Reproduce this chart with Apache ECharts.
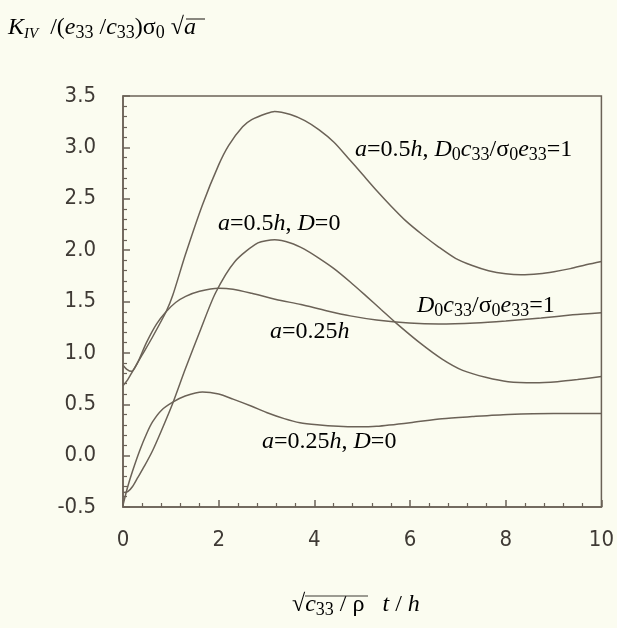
<!DOCTYPE html>
<html>
<head>
<meta charset="utf-8">
<script src="https://cdn.jsdelivr.net/npm/echarts@6/dist/echarts.min.js"></script>
<style>
  html, body { margin: 0; padding: 0; background: #fbfcf0; }
  #chart { width: 617px; height: 628px; }
</style>
</head>
<body>
<div id="chart"></div>
<script>
// curves, [x, y]
var a05D1 = [[0,0.68],[0.1,0.74],[0.2,0.82],[0.4,0.98],[0.6,1.14],[0.9,1.4],[1.04,1.56],[1.3,1.95],[1.66,2.44],[2.0,2.83],[2.21,3.02],[2.5,3.2],[2.69,3.27],[3.0,3.33],[3.17,3.35],[3.5,3.32],[3.8,3.26],[4.1,3.17],[4.41,3.05],[4.7,2.9],[5.0,2.74],[5.3,2.58],[5.6,2.43],[5.9,2.29],[6.26,2.15],[6.6,2.03],[6.95,1.92],[7.3,1.85],[7.64,1.8],[8.0,1.77],[8.32,1.76],[8.7,1.77],[9.01,1.79],[9.35,1.82],[9.7,1.86],[10,1.89]];
var a05D0 = [[0,-0.36],[0.1,-0.35],[0.2,-0.3],[0.3,-0.22],[0.45,-0.1],[0.62,0.05],[0.8,0.24],[1.04,0.51],[1.3,0.84],[1.6,1.2],[1.93,1.58],[2.34,1.89],[2.82,2.07],[3.17,2.1],[3.5,2.07],[3.79,2.01],[4.1,1.92],[4.41,1.82],[4.75,1.69],[5.09,1.55],[5.4,1.42],[5.71,1.29],[6.2,1.1],[6.67,0.94],[7.1,0.83],[7.6,0.76],[8.05,0.72],[8.6,0.71],[9.08,0.72],[9.5,0.74],[10,0.77]];
var a025D1 = [[0,0.88],[0.08,0.84],[0.18,0.82],[0.3,0.9],[0.49,1.1],[0.7,1.28],[0.9,1.4],[1.1,1.49],[1.31,1.55],[1.6,1.6],[2.0,1.63],[2.3,1.62],[2.69,1.58],[3.2,1.52],[3.72,1.47],[4.25,1.41],[4.75,1.36],[5.3,1.32],[5.98,1.29],[6.6,1.28],[7.36,1.29],[8.0,1.31],[8.74,1.34],[9.4,1.37],[10,1.39]];
var a025D0 = [[0,-0.48],[0.1,-0.3],[0.2,-0.15],[0.35,0.05],[0.5,0.22],[0.62,0.33],[0.8,0.44],[1.04,0.52],[1.3,0.58],[1.66,0.62],[2.0,0.6],[2.3,0.55],[2.69,0.48],[3.0,0.42],[3.37,0.36],[3.7,0.32],[4.06,0.3],[4.5,0.285],[4.89,0.28],[5.3,0.285],[6.0,0.32],[6.67,0.36],[7.3,0.38],[8.05,0.4],[9.0,0.41],[10,0.41]];

var xMin = 0, xMax = 10, xStep = 2;
var yMin = -0.5, yMax = 3.5, yStep = 0.5;

var ink = '#6b6257';
var txt = '#3f3a35';
var serif = '"Liberation Serif", "Times New Roman", serif';
var narrow = '"Liberation Sans Narrow", "DejaVu Sans Condensed", sans-serif';

var rich = {
  i: { fontFamily: serif, fontStyle: 'italic', fontSize: 24, color: txt },
  n: { fontFamily: serif, fontSize: 24, color: txt },
  s: { fontFamily: serif, fontSize: 18, color: txt, padding: [10, 0, 0, 0] },
  si: { fontFamily: serif, fontStyle: 'italic', fontSize: 15, color: txt, padding: [12, 0, 0, 0] }
};

function note(text, left, top) {
  return { type: 'text', left: left, top: top, silent: true, style: { text: text, rich: rich } };
}

function curve(name, data) {
  return {
    name: name, type: 'line', data: data, smooth: 0.25, showSymbol: false,
    lineStyle: { color: ink, width: 1.5 }, silent: true
  };
}

var myChart = echarts.init(document.getElementById('chart'));
myChart.setOption({
  backgroundColor: '#fbfcf0',
  animation: false,
  grid: { left: 123, right: 9, top: 96, bottom: 121, show: true, borderColor: ink, borderWidth: 1.5, backgroundColor: 'transparent' },
  xAxis: {
    type: 'value', min: xMin, max: xMax, interval: xStep,
    axisLine: { onZero: false, lineStyle: { color: ink, width: 1.5 } },
    axisTick: { inside: true, length: 7, lineStyle: { color: ink, width: 1.5 } },
    minorTick: { show: true, splitNumber: 5, length: 4, lineStyle: { color: ink, width: 1.2 } },
    splitLine: { show: false },
    axisLabel: { margin: 22, fontFamily: narrow, fontSize: 22, color: txt }
  },
  yAxis: {
    type: 'value', min: yMin, max: yMax, interval: yStep,
    axisLine: { onZero: false, lineStyle: { color: ink, width: 1.5 } },
    axisTick: { inside: true, length: 7, lineStyle: { color: ink, width: 1.5 } },
    minorTick: { show: true, splitNumber: 5, length: 4, lineStyle: { color: ink, width: 1.2 } },
    splitLine: { show: false },
    axisLabel: { margin: 27, fontFamily: narrow, fontSize: 22, color: txt, formatter: function (v) { return v.toFixed(1); } }
  },
  series: [
    curve('a=0.5h, D0c33/σ0e33=1', a05D1),
    curve('a=0.5h, D=0', a05D0),
    curve('a=0.25h, D0c33/σ0e33=1', a025D1),
    curve('a=0.25h, D=0', a025D0)
  ],
  graphic: [
    // y axis title
    note('{i|K}{si|IV}{n|  /(}{i|e}{s|33}{n| /}{i|c}{s|33}{n|)σ}{s|0}{n| √}{i|a}', 8, 16),
    { type: 'line', silent: true, shape: { x1: 186, y1: 19, x2: 205, y2: 19 }, style: { stroke: txt, lineWidth: 1.2 } },
    // x axis title
    note('{n|√}{i|c}{s|33}{n| / ρ   }{i|t}{n| / }{i|h}', 292, 593),
    { type: 'line', silent: true, shape: { x1: 305, y1: 596, x2: 368, y2: 596 }, style: { stroke: txt, lineWidth: 1.2 } },
    // curve notes
    note('{i|a}{n|=0.5}{i|h}{n|, }{i|D}{s|0}{i|c}{s|33}{n|/σ}{s|0}{i|e}{s|33}{n|=1}', 355, 138),
    note('{i|a}{n|=0.5}{i|h}{n|, }{i|D}{n|=0}', 218, 212),
    note('{i|D}{s|0}{i|c}{s|33}{n|/σ}{s|0}{i|e}{s|33}{n|=1}', 417, 294),
    note('{i|a}{n|=0.25}{i|h}', 270, 320),
    note('{i|a}{n|=0.25}{i|h}{n|, }{i|D}{n|=0}', 262, 430)
  ]
});
window.addEventListener('resize', function () { myChart.resize(); });
</script>
</body>
</html>
